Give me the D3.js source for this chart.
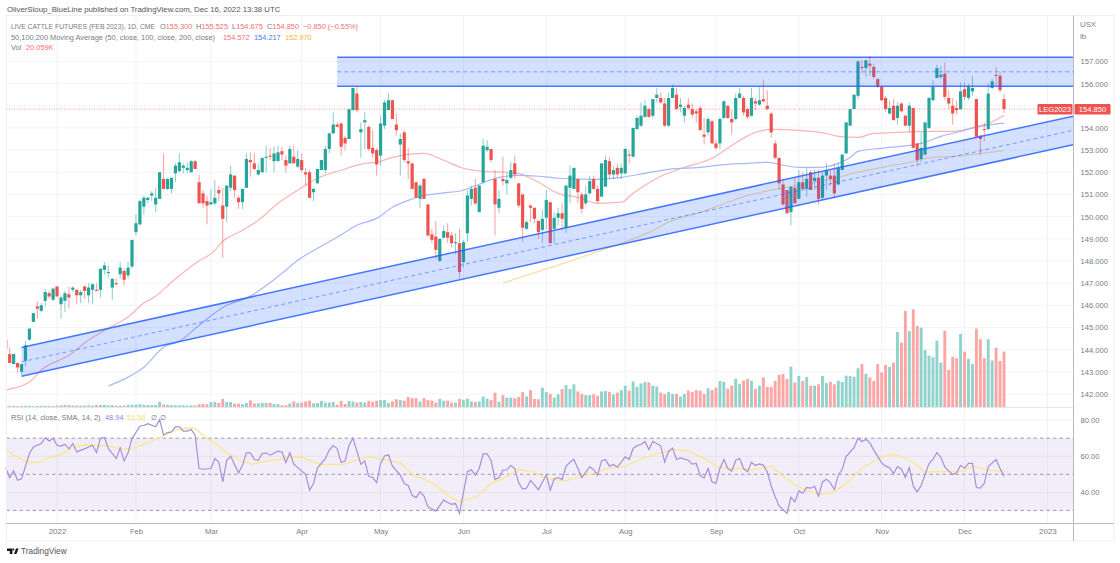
<!DOCTYPE html>
<html>
<head>
<meta charset="utf-8">
<style>
html,body{margin:0;padding:0;background:#fff;overflow:hidden}
svg{display:block}
text{font-family:"Liberation Sans",Arial,sans-serif}
</style>
</head>
<body>
<svg width="1120" height="563"></svg>
<script src="https://cdn.jsdelivr.net/npm/d3@7"></script>
<script>
// one year of daily candles
const opens = [
144.45,143.80,143.35,143.40,143.00,143.50,144.45,145.25,145.95,145.75,
146.20,146.55,146.25,146.85,146.05,146.20,146.50,146.70,146.70,146.45,
146.85,146.45,146.70,146.70,146.70,147.60,147.45,146.80,147.00,147.40,
147.55,147.35,147.75,149.30,149.65,150.45,150.75,150.95,150.55,150.80,
151.70,151.25,151.25,151.95,152.05,152.20,152.10,152.00,152.50,151.55,
151.05,150.70,150.55,150.60,151.20,150.50,150.45,151.30,151.85,150.85,
150.65,151.30,152.55,152.40,151.90,152.00,152.65,152.75,152.50,152.50,
152.95,152.55,152.40,152.70,152.25,152.55,152.00,152.00,151.10,151.50,
152.10,152.10,153.05,153.75,154.15,154.20,153.55,153.50,154.80,155.55,
153.80,154.25,154.05,153.10,153.00,152.75,154.10,154.80,155.25,154.15,
153.25,153.80,152.50,152.40,151.55,150.80,151.70,150.55,149.20,149.10,
148.00,149.05,149.30,149.15,148.80,148.80,147.95,149.25,150.80,151.30,
150.20,151.55,153.00,153.05,151.70,150.40,151.70,151.50,151.75,152.40,
151.50,151.00,149.45,150.50,150.40,149.80,149.40,149.95,150.65,149.45,
149.95,150.15,149.50,151.30,151.25,151.70,151.00,150.60,151.05,151.70,
151.25,150.90,151.35,152.50,151.90,152.20,151.95,151.95,152.80,152.70,
153.95,154.10,154.50,154.85,154.55,155.35,155.35,155.10,154.10,155.35,
155.50,154.95,154.55,155.05,154.85,154.75,154.90,153.70,153.80,154.30,
153.30,153.30,154.45,155.00,154.40,154.40,155.35,155.35,154.85,154.55,
155.20,155.05,155.30,155.00,154.65,153.30,152.65,151.45,151.20,150.20,
151.30,150.80,151.55,151.25,152.00,151.60,151.75,150.85,151.85,151.85,
151.85,151.45,152.10,152.85,154.10,154.85,155.45,156.75,156.70,156.90,
156.75,156.20,155.85,155.35,154.65,155.00,154.45,155.10,154.55,154.10,
154.90,153.30,152.60,152.80,154.00,155.25,156.25,156.30,156.45,155.35,
155.00,154.90,154.85,155.75,155.35,155.65,155.30,153.65,153.95,153.95,
155.80,156.40,156.35,155.30];
const highs = [
144.50,144.10,143.80,143.40,143.35,144.40,144.95,145.65,146.15,146.10,
146.75,146.65,146.80,146.85,146.45,146.65,146.85,146.85,146.70,146.70,
146.90,147.00,147.00,147.00,147.65,147.95,147.80,147.20,147.20,147.95,
147.65,147.95,148.95,150.10,150.75,150.95,150.90,151.15,151.30,152.00,
152.85,151.75,151.75,152.40,152.85,152.40,152.45,152.55,152.55,151.90,
151.20,150.95,151.25,151.65,151.40,151.30,151.40,152.30,151.85,150.95,
151.25,152.85,152.90,152.85,152.40,152.65,153.20,153.10,153.15,153.20,
153.15,152.75,153.20,153.20,153.00,152.85,152.20,152.10,151.30,152.15,
152.55,153.20,153.80,154.70,154.25,154.25,153.65,154.85,155.80,155.85,
154.25,154.70,154.10,153.90,153.10,154.55,155.25,155.55,155.25,154.65,
153.75,153.90,153.10,152.40,151.55,151.50,151.75,150.55,149.45,149.80,
149.00,149.60,149.70,149.30,149.25,149.45,148.95,151.20,151.40,151.70,
151.40,153.50,153.45,153.05,152.10,151.20,152.70,152.00,152.45,152.75,
151.50,151.00,149.85,150.55,150.40,149.85,150.30,151.20,150.65,150.20,
150.40,150.60,151.40,152.30,152.20,151.70,151.10,151.40,151.85,151.85,
151.40,152.40,152.75,152.70,152.30,152.40,152.40,153.10,153.00,154.00,
154.55,155.15,155.25,154.90,155.30,155.80,155.60,155.35,155.60,155.95,
155.80,155.35,155.00,155.35,155.10,154.85,155.00,154.45,154.50,154.35,
153.45,154.50,155.25,155.00,154.80,155.55,155.80,155.45,154.90,155.80,
155.35,155.85,156.15,155.70,154.70,153.45,152.65,151.70,151.20,151.35,
151.75,152.10,152.00,152.20,152.10,152.10,152.10,152.00,152.40,152.10,
152.40,152.40,152.80,154.25,154.85,155.50,157.05,157.05,157.05,157.25,
156.90,156.25,155.85,155.45,155.25,155.30,155.15,155.15,154.60,155.15,
154.90,153.30,153.80,154.25,155.40,156.15,156.85,156.80,156.95,155.70,
155.35,155.25,156.05,156.05,156.00,156.35,155.30,153.65,154.25,156.00,
156.20,156.75,156.50,155.525];
const lows = [
144.05,143.40,143.35,142.95,142.85,143.25,144.40,145.25,145.40,145.70,
145.95,146.30,146.20,146.40,145.40,145.70,145.85,146.60,146.05,146.10,
146.30,146.10,146.05,146.65,146.35,147.40,147.25,146.25,146.90,147.20,
146.90,147.20,147.65,149.15,149.60,150.10,150.60,150.70,150.20,150.80,
151.25,151.20,151.05,151.55,152.00,151.95,151.95,152.00,152.15,150.60,
150.40,149.65,150.55,150.50,150.70,148.15,149.75,151.15,150.85,150.35,
150.35,151.30,151.80,152.10,151.85,152.00,152.00,152.55,152.00,152.50,
152.55,152.00,152.40,152.40,152.20,152.00,151.40,150.85,150.70,151.50,
152.10,151.95,152.85,153.75,154.05,152.75,153.00,153.50,154.80,154.70,
152.65,153.05,152.95,152.65,151.85,152.30,153.95,154.80,154.40,153.65,
151.85,152.45,151.70,151.25,150.85,150.40,150.80,149.10,148.80,148.10,
147.95,149.00,148.80,148.60,148.30,147.20,147.70,148.85,150.50,150.50,
150.20,151.45,152.90,152.45,149.15,150.15,151.40,151.00,151.70,151.70,
150.40,148.85,149.40,149.75,149.70,149.00,148.80,149.40,148.80,148.80,
149.60,149.40,149.25,150.60,151.25,150.60,150.15,150.50,151.00,151.20,
150.60,150.90,151.35,151.70,151.70,151.75,151.70,151.90,152.40,152.70,
153.90,154.05,154.45,154.45,154.45,155.15,155.10,154.05,154.05,155.35,
154.80,154.70,154.25,154.80,154.45,154.25,153.90,153.25,153.65,153.30,
153.00,153.05,154.40,154.40,153.70,154.35,155.35,154.55,154.40,154.50,
154.80,155.00,155.15,154.80,153.55,152.60,151.20,150.50,150.15,149.60,
150.60,150.80,151.25,150.90,151.20,151.20,150.55,150.75,151.20,151.40,
150.80,151.40,152.10,152.85,154.10,154.85,155.30,156.45,156.30,156.35,
156.20,155.80,155.20,154.70,154.60,154.35,154.15,154.70,154.10,153.80,
153.05,152.25,152.45,152.75,153.95,155.20,156.25,156.20,155.25,154.85,
154.15,154.60,154.80,155.25,155.25,155.45,153.55,152.75,153.40,153.90,
155.75,155.90,155.60,154.675];
const closes = [
144.05,143.40,143.80,143.20,143.35,144.20,144.95,145.65,145.85,146.00,
146.60,146.40,146.75,146.40,146.35,146.55,146.35,146.80,146.45,146.60,
146.65,146.80,146.95,146.65,147.65,147.80,147.50,147.20,146.95,147.70,
147.15,147.70,148.95,149.70,150.70,150.85,150.85,151.05,150.85,152.00,
151.25,151.70,151.75,152.30,152.45,152.30,152.20,152.50,152.15,150.60,
150.60,150.50,150.65,150.85,151.05,149.90,151.40,151.90,151.20,150.65,
151.25,152.60,152.45,152.15,152.10,152.65,152.70,152.70,152.85,152.90,
152.80,152.30,153.05,152.40,152.60,152.10,151.90,150.85,151.25,152.15,
152.55,153.05,153.75,154.15,154.05,153.15,153.30,154.85,155.80,154.80,
153.95,154.35,153.05,152.85,152.35,154.20,155.15,155.25,154.40,153.90,
153.50,152.55,152.40,151.25,150.85,151.40,150.80,149.15,148.95,148.50,
149.00,149.35,149.05,148.80,148.85,147.50,148.85,150.95,151.25,150.60,
151.40,153.20,153.15,152.55,150.55,150.80,151.60,151.65,152.10,151.90,
150.50,149.50,149.75,150.40,149.90,149.30,149.90,150.75,148.80,149.95,
150.15,149.90,151.40,151.85,152.20,151.10,150.35,151.00,151.60,151.25,
150.70,152.40,152.55,151.90,152.10,151.90,152.20,153.05,152.75,154.00,
154.45,154.55,155.00,154.50,155.30,155.50,155.15,154.10,155.35,155.80,
154.85,155.05,154.90,154.90,154.60,154.65,153.90,153.60,154.40,153.30,
153.10,154.40,155.20,154.45,154.25,155.35,155.55,154.70,154.50,155.35,
155.10,155.25,155.20,154.85,153.80,152.65,151.50,150.55,150.15,151.35,
150.60,151.55,151.25,151.70,151.20,151.75,150.80,151.85,152.10,151.70,
151.05,152.20,152.80,154.25,154.85,155.50,157.00,156.70,157.05,156.80,
156.30,155.85,155.25,154.85,154.90,154.35,155.00,154.75,154.10,155.00,
153.10,152.55,153.10,154.25,155.35,155.85,156.70,156.40,155.40,155.10,
154.65,154.80,155.65,155.40,155.85,155.80,153.60,153.50,153.90,155.55,
156.10,156.35,155.70,154.85];
// volume in thousands
const volumes = [
.3,.4,.4,.3,.3,.4,.4,.3,.4,.4,
.4,.4,.3,.5,.6,.8,.7,.5,.5,.5,
.5,.6,.5,.7,.7,.8,.6,.7,.5,.5,
.5,.8,.8,.9,1.0,.8,.7,.7,.7,1.8,
.9,.8,.7,.6,.6,.6,.5,.6,.5,1.0,
1.1,1.0,1.8,1.8,1.5,2.9,1.8,1.8,1.2,1.2,
1.0,1.5,2.4,1.3,1.3,1.5,1.5,1.5,1.1,1.0,
.6,.6,1.3,2.0,1.4,1.6,2.0,2.3,1.3,1.4,
2.2,1.6,1.6,1.8,.8,2.2,1.1,2.2,2.0,1.6,
1.8,1.6,2.2,1.9,2.3,2.5,2.5,1.4,2.0,2.8,
2.5,2.3,3.6,3.2,3.2,2.0,3.2,2.5,2.3,1.6,
2.9,2.3,2.3,1.6,1.6,2.9,2.6,3.0,2.0,1.8,
2.0,3.8,3.0,2.5,5.2,1.9,4.3,3.4,3.4,3.2,
3.6,5.4,3.8,6.1,2.9,2.8,7.0,5.4,4.7,3.4,
4.6,6.5,7.9,6.5,8.2,5.6,4.7,4.3,4.3,4.6,
4.1,5.6,5.8,5.4,4.6,5.2,6.1,7.7,5.9,9.2,
7.3,8.5,9.0,8.9,7.7,7.4,5.2,4.7,5.4,4.7,
4.7,3.8,4.7,5.9,5.4,6.1,5.9,4.7,6.8,6.1,
7.0,9.4,9.1,6.6,7.7,10.2,8.4,9.5,10.1,9.5,
6.5,7.7,10.7,7.3,7.3,9.4,11.6,11.9,10.1,14.6,
8.8,11.2,9.4,10.8,7.7,7.7,8.2,11.2,8.6,9.1,
8.2,9.5,9.1,11.3,11.2,10.9,14.0,15.5,12.0,10.7,
9.4,15.5,12.5,15.2,14.5,16.0,27.1,23.3,34.7,27.4,
35.3,29.3,28.7,20.6,18.6,18.0,24.0,16.1,27.6,13.4,
18.1,17.6,26.4,20.0,17.4,15.5,28.3,24.5,17.6,24.5,
16.8,21.4,16.6,20.059];
// moving averages, read at the listed bars
const ma50Bars = [0,6,9,16,21,26,31,35,38,42,48,53,55,59,64,69,74,79,85,91,94,98,102,106,111,116,121,127,130,135,140,145,150,156,159,166,172,179,184,190,194,201,208,211,216,220,226,235,240,245,247,249,253];
const ma50Vals = [142.18,142.54,143.08,143.75,144.43,144.97,145.47,146.10,146.41,147.04,147.89,148.48,148.89,149.29,149.83,150.60,151.19,151.73,152.09,152.40,152.45,152.67,152.81,152.85,152.54,152.18,152.04,152.00,151.95,151.55,151.05,150.87,150.60,150.65,151.05,151.82,152.22,152.63,153.21,153.80,153.93,153.89,153.75,153.62,153.57,153.75,153.80,153.84,153.84,154.02,154.11,154.20,154.572];
const ma100Bars = [26,31,35,40,44,49,56,61,70,74,79,84,89,94,98,102,105,110,116,120,125,130,135,140,149,156,162,168,176,183,188,193,196,201,206,211,214,216,222,229,232,237,243,247,253];
const ma100Vals = [142.36,142.76,143.21,144.11,144.38,145.10,146.00,146.32,147.44,148.03,148.57,149.07,149.61,149.92,150.42,150.73,150.92,151.05,151.19,151.46,151.77,151.86,151.82,151.73,151.68,151.77,151.95,152.13,152.22,152.36,152.40,152.45,152.36,152.22,152.22,152.40,152.67,152.94,153.08,153.21,153.30,153.62,153.89,154.07,154.217];
const ma200Bars = [126,140,151,156,163,169,176,183,189,195,204,211,216,222,229,235,240,245,253];
const ma200Vals = [147.00,147.81,148.48,148.80,149.29,149.83,150.19,150.65,151.00,151.23,151.50,151.77,152.00,152.22,152.45,152.67,152.72,152.81,152.97];
// rsi and its average
const rsiBars = [0,1,2,3,4,6,7,9,10,11,12,13,14,15,16,17,18,19,20,22,23,24,25,26,28,29,30,31,32,34,35,36,38,39,40,41,42,43,44,45,46,47,48,49,50,52,53,54,55,56,57,59,60,61,62,63,64,65,66,67,69,70,71,72,73,74,76,77,78,79,81,82,83,84,85,86,87,88,90,91,92,93,94,95,96,97,98,100,101,102,103,104,105,106,107,109,111,112,113,114,115,117,118,119,120,121,122,123,124,125,126,127,128,129,130,131,132,133,135,137,138,139,140,141,142,143,144,146,148,149,150,151,152,153,154,155,157,158,159,160,161,162,163,164,166,167,168,169,170,171,173,174,175,176,177,178,179,180,181,182,183,184,185,186,187,188,189,190,191,192,193,194,195,196,198,199,200,201,202,203,204,205,206,207,208,209,210,211,212,213,215,216,217,218,219,220,222,223,224,225,226,227,228,229,230,231,232,234,235,236,237,238,239,240,241,242,243,244,245,246,247,248,249,250,251,252,253];
const rsiVals = [53.6,48.2,51.9,46.7,47.5,61.5,65.2,67.0,70.2,68.5,70.0,66.1,65.6,66.7,64.1,67.0,62.4,63.4,64.1,66.1,62.1,69.8,70.4,64.3,58.7,64.6,57.4,61.9,69.8,76.6,77.2,78.1,76.3,80.3,71.7,73.1,73.5,76.3,76.3,73.9,73.9,74.8,71.7,53.2,52.8,53.2,58.7,56.8,45.8,57.8,60.0,50.8,55.0,61.9,61.9,58.2,57.8,61.5,61.9,60.6,62.8,62.4,56.5,61.9,55.6,53.7,50.0,41.2,44.9,53.6,58.7,63.4,65.9,64.3,56.5,57.3,66.1,70.0,55.6,57.4,48.9,48.2,45.4,56.0,60.2,60.8,54.5,49.5,44.9,43.8,38.4,37.1,40.4,37.9,32.0,29.6,35.7,34.4,33.4,33.8,28.3,51.5,52.5,49.5,53.2,61.3,61.3,57.8,47.1,48.2,52.3,52.5,54.9,53.2,45.3,41.8,42.3,46.7,41.5,49.7,41.2,47.5,48.2,47.1,54.5,56.7,58.2,48.2,54.1,52.6,49.5,57.4,58.2,54.5,55.4,53.9,59.7,58.2,64.3,65.9,66.5,68.2,63.7,68.2,65.8,56.9,62.8,64.5,58.2,59.1,57.8,55.6,56.0,49.3,48.0,53.2,45.8,44.9,53.2,58.2,53.2,51.8,57.8,58.7,53.2,51.4,56.7,54.9,55.8,55.1,51.4,43.5,37.6,32.5,28.3,37.3,34.7,40.8,39.5,42.7,42.3,43.4,37.9,45.8,47.3,45.3,41.6,49.5,52.8,60.0,64.8,70.0,68.2,69.3,67.4,63.4,56.3,54.5,53.7,50.4,54.3,52.8,48.2,53.7,43.4,40.3,43.8,56.0,58.2,62.1,59.3,54.1,51.9,49.9,50.8,55.0,53.4,56.0,56.0,42.7,42.3,44.9,54.1,56.3,58.2,53.2,48.94];
const rsiMaBars = [0,2,5,7,9,11,14,17,20,22,26,28,32,35,39,43,46,48,50,53,56,59,62,65,69,72,75,80,86,89,92,96,100,103,108,112,115,120,123,126,130,134,137,142,146,150,152,157,162,166,170,173,177,180,183,186,189,194,197,200,206,210,213,217,222,225,229,233,237,243,245,249,253];
const rsiMaVals = [63.9,60.6,57.3,56.5,56.7,59.3,61.0,64.6,66.5,66.1,65.8,64.6,63.9,66.7,70.4,74.4,75.7,75.4,71.7,67.0,62.1,58.2,55.6,56.9,58.2,59.7,59.3,55.4,55.6,57.8,59.7,58.2,56.3,50.1,45.4,38.4,34.5,38.4,44.9,47.7,52.8,51.2,47.3,46.5,48.9,51.0,53.0,54.5,59.3,61.9,63.7,63.0,58.7,54.7,53.2,53.2,52.5,54.5,48.9,44.0,38.8,40.3,44.9,53.2,59.7,61.1,58.2,51.3,51.5,51.9,54.5,52.3,51.58];
// drawings: the rising channel and the box on top
const channelBars = [4,270.5];
const channelUpper = [144.10,154.53];
const channelMiddle = [143.45,153.89];
const channelLower = [142.80,153.24];
const boxBars = [84,270.5];
const boxTop = 157.19, boxMid = 156.53, boxBottom = 155.88;
// axes
const monthBars = [13,33,52,75,95,116,137,157,180,201,222,243,264];
const monthLabels = ["2022","Feb","Mar","Apr","May","Jun","Jul","Aug","Sep","Oct","Nov","Dec","2023"];
const priceTicks = [157,156,155,154,153,152,151,150,149,148,147,146,145,144,143,142];
const rsiTicks = [80,60,40];
const rsiGuides = [70,50,30];
const lastPrice = 154.85;

const up = "#26a69a", down = "#ef5350", blue = "#2962ff";
const left = 6.5, right = 1073.5, frameRight = 1114;
const mainBottom = 407, rsiBottom = 523.5;

const svg = d3.select("svg");
const x = d3.scaleLinear().domain([0,253]).range([5.75,1004]);
const y = d3.scaleLinear().domain([142,157]).range([394,61.4]);
const yVol = d3.scaleLinear().domain([0,35.3]).range([407,309.3]);
const yRsi = d3.scaleLinear().domain([30,70]).range([510.4,438.2]);
const bars = d3.range(opens.length);

svg.append("clipPath").attr("id","plot").append("rect")
	.attr("x",left).attr("y",15).attr("width",right-left).attr("height",rsiBottom-15);

// grid
svg.append("g").selectAll("line").data(priceTicks).enter().append("line")
	.attr("x1",left).attr("x2",right).attr("y1",d=>y(d)).attr("y2",d=>y(d)).attr("stroke","#f3f4f9");
svg.append("g").selectAll("line").data(rsiTicks).enter().append("line")
	.attr("x1",left).attr("x2",right).attr("y1",d=>yRsi(d)).attr("y2",d=>yRsi(d)).attr("stroke","#f0f1f7");
svg.append("g").selectAll("line").data(monthBars).enter().append("line")
	.attr("x1",d=>x(d)).attr("x2",d=>x(d)).attr("y1",15).attr("y2",rsiBottom).attr("stroke","#f1f2f9");

const plot = svg.append("g").attr("clip-path","url(#plot)");

// volume under everything
plot.append("g").selectAll("rect").data(bars).enter().append("rect")
	.attr("x",i=>x(i)-1.45).attr("width",2.9)
	.attr("y",i=>yVol(volumes[i])).attr("height",i=>yVol(0)-yVol(volumes[i]))
	.attr("fill",i=>closes[i]>=opens[i] ? "#8fd3cb" : "#fba5a5");

// moving averages
function maLine(barsList,vals,color){
	const line = d3.line().x(i=>x(barsList[i])).y(i=>y(vals[i])).curve(d3.curveMonotoneX);
	plot.append("path").attr("d",line(d3.range(barsList.length)))
		.attr("fill","none").attr("stroke",color).attr("stroke-width",1.2);
}
maLine(ma50Bars,ma50Vals,"#fab4b4");
maLine(ma100Bars,ma100Vals,"#a8b8fa");
maLine(ma200Bars,ma200Vals,"#f9dba6");

// candles
const candles = plot.append("g").selectAll("g").data(bars).enter().append("g");
candles.append("line")
	.attr("x1",i=>x(i)).attr("x2",i=>x(i))
	.attr("y1",i=>y(highs[i])).attr("y2",i=>y(lows[i]))
	.attr("stroke",i=>closes[i]>=opens[i] ? up : down).attr("stroke-opacity",.55);
candles.append("rect")
	.attr("x",i=>x(i)-1.6).attr("width",3.2)
	.attr("y",i=>y(Math.max(opens[i],closes[i])))
	.attr("height",i=>Math.max(1,Math.abs(y(opens[i])-y(closes[i]))))
	.attr("fill",i=>closes[i]>=opens[i] ? up : down);

// last price line
plot.append("line").attr("x1",left).attr("x2",right).attr("y1",y(lastPrice)).attr("y2",y(lastPrice))
	.attr("stroke",down).attr("stroke-opacity",.6).attr("stroke-dasharray","1 1.5");

// channel and box
const drawings = plot.append("g");
const band = d3.area().x(d=>x(d[0])).y0(d=>y(d[2])).y1(d=>y(d[1]));
drawings.append("path")
	.attr("d",band([[channelBars[0],channelUpper[0],channelLower[0]],[channelBars[1],channelUpper[1],channelLower[1]]]))
	.attr("fill",blue).attr("fill-opacity",.2);
function segment(bs,ps,width,dash){
	drawings.append("line").attr("x1",x(bs[0])).attr("x2",x(bs[1])).attr("y1",y(ps[0])).attr("y2",y(ps[1]))
		.attr("stroke",blue).attr("stroke-width",width).attr("stroke-dasharray",dash).attr("stroke-opacity",dash ? .55 : .85);
}
segment(channelBars,channelUpper,1.5);
segment(channelBars,channelMiddle,1,"4 3");
segment(channelBars,channelLower,1.5);
drawings.append("rect").attr("x",x(boxBars[0])).attr("width",x(boxBars[1])-x(boxBars[0]))
	.attr("y",y(boxTop)).attr("height",y(boxBottom)-y(boxTop)).attr("fill",blue).attr("fill-opacity",.2);
segment(boxBars,[boxTop,boxTop],1.5);
segment(boxBars,[boxMid,boxMid],1,"4 3");
segment(boxBars,[boxBottom,boxBottom],1.5);

// rsi pane
svg.append("rect").attr("x",left).attr("width",right-left).attr("y",yRsi(70)).attr("height",yRsi(30)-yRsi(70))
	.attr("fill","#7e57c2").attr("fill-opacity",.1);
svg.append("g").selectAll("line").data(rsiGuides).enter().append("line")
	.attr("x1",left).attr("x2",right).attr("y1",d=>yRsi(d)).attr("y2",d=>yRsi(d))
	.attr("stroke","#9b9da6").attr("stroke-dasharray","3.5 3");
const rsiLine = (bs,vs)=>d3.line().x(i=>x(bs[i])).y(i=>yRsi(vs[i]))(d3.range(bs.length));
svg.append("path").attr("d",rsiLine(rsiMaBars,rsiMaVals)).attr("fill","none").attr("stroke","#fde68a").attr("stroke-width",1.3);
svg.append("path").attr("d",rsiLine(rsiBars,rsiVals)).attr("fill","none").attr("stroke","#a78fd8").attr("stroke-width",1.2);

// frame
const frame = svg.append("g").attr("fill","none");
frame.append("rect").attr("x",left).attr("y",15.5).attr("width",frameRight-left).attr("height",525.5).attr("stroke","#eeeff4");
frame.append("line").attr("x1",left).attr("x2",right).attr("y1",mainBottom+.5).attr("y2",mainBottom+.5).attr("stroke","#e6e7ee");
frame.append("line").attr("x1",left).attr("x2",frameRight).attr("y1",rsiBottom).attr("y2",rsiBottom).attr("stroke","#b8bac2").attr("stroke-width",1);
frame.append("line").attr("x1",right).attr("x2",right).attr("y1",15.5).attr("y2",541).attr("stroke","#b8bac2").attr("stroke-width",1);

// axes
const gray = "#787b86";
const priceAxis = svg.append("g").attr("transform",`translate(${right},0)`)
	.call(d3.axisRight(y).tickValues(priceTicks).tickFormat(d3.format(".3f")).tickSize(0).tickPadding(7));
const rsiAxis = svg.append("g").attr("transform",`translate(${right},0)`)
	.call(d3.axisRight(yRsi).tickValues(rsiTicks).tickFormat(d3.format(".2f")).tickSize(0).tickPadding(7));
const timeAxis = svg.append("g").attr("transform",`translate(0,${rsiBottom})`)
	.call(d3.axisBottom(x).tickValues(monthBars).tickFormat((d,i)=>monthLabels[i]).tickSize(0).tickPadding(5));
[priceAxis,rsiAxis,timeAxis].forEach(a=>{
	a.select(".domain").remove();
	a.selectAll("text").attr("fill",gray).style("font-size","7.6px").style("font-family",'"Liberation Sans"');
});
timeAxis.selectAll("text").filter((d,i)=>i==0||i==12).style("font-size","8px");

function label(px,py,str,color,size,anchor){
	return svg.append("text").attr("x",px).attr("y",py).attr("fill",color)
		.attr("text-anchor",anchor||"start").style("font-size",(size||7.4)+"px").text(str);
}

label(1080,26.5,"USX",gray,7.8);
label(1080,39,"lb",gray,7.8);

// last price tags
svg.append("rect").attr("x",1037.5).attr("y",104).attr("width",35).attr("height",10.5).attr("fill",down).attr("rx",1);
svg.append("rect").attr("x",1074.5).attr("y",104).attr("width",36).attr("height",10.5).attr("fill",down).attr("rx",1);
label(1055,112,"LEG2023","#fff",7.6,"middle");
label(1092.5,112,"154.850","#fff",7.6,"middle");

// header and legends
label(7,12,"OliverSloup_BlueLine published on TradingView.com, Dec 16, 2022 13:38 UTC","#555",7.8);
const red = "#f7706e";
label(11,29,"LIVE CATTLE FUTURES (FEB 2023), 1D, CME",gray)
	.attr("textLength",144).attr("lengthAdjust","spacingAndGlyphs");
[[160,"O","155.300"],[196,"H","155.525"],[232,"L","154.675"],[267,"C","154.850"]].forEach(s=>{
	const t = label(s[0],29,s[1],gray);
	t.append("tspan").attr("fill",red).text(s[2]);
});
label(303,29,"\u22120.850 (\u22120.55%)",red);
label(11,39.5,"50,100,200 Moving Average (50, close, 100, close, 200, close)",gray);
label(223,39.5,"154.572",red);
label(254,39.5,"154.217","#4a78f5");
label(285,39.5,"152.970","#f7b23c");
label(11,50,"Vol",gray);
label(26,50,"20.059K",red);
label(11,420,"RSI (14, close, SMA, 14, 2)",gray);
label(105,420,"48.94","#9b7fd4");
label(127,420,"51.58","#f5dd6c");
label(151,420,"\u2205",gray);
label(160,420,"\u2205",gray);

// footer logo
svg.append("path").attr("d","M7 548.5h5.4v5.5h-2.6v-3h-2.8z M14 554l2-5.5h2.6l-2.2 5.5z").attr("fill","#131722");
svg.append("circle").attr("cx",13.4).attr("cy",549.6).attr("r",1).attr("fill","#131722");
label(21,554,"TradingView","#555",8.3);
</script>
</body>
</html>
